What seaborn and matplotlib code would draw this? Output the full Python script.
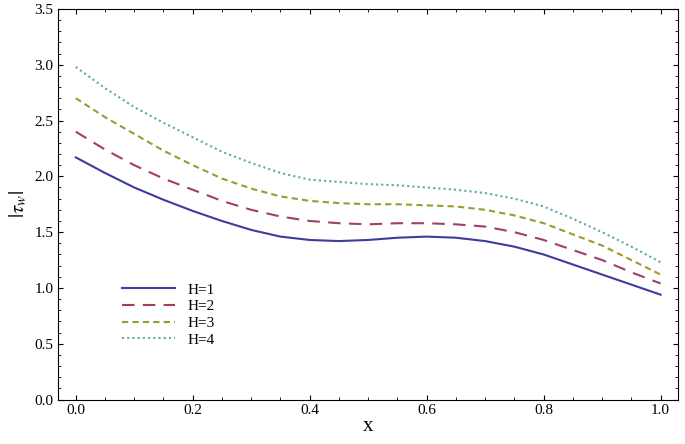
import matplotlib
matplotlib.use("Agg")
import matplotlib.pyplot as plt
import seaborn as sns
import pandas as pd

x = [0.0, 0.05, 0.1, 0.15, 0.2, 0.25, 0.3, 0.35, 0.4, 0.45, 0.5,
     0.55, 0.6, 0.65, 0.7, 0.75, 0.8, 0.85, 0.9, 0.95, 1.0]
h1 = [2.17, 2.03, 1.90, 1.79, 1.69, 1.60, 1.52, 1.46, 1.43, 1.42, 1.43,
      1.45, 1.46, 1.45, 1.42, 1.37, 1.30, 1.21, 1.12, 1.03, 0.94]
h2 = [2.40, 2.24, 2.10, 1.98, 1.88, 1.78, 1.70, 1.64, 1.60, 1.58, 1.57,
      1.58, 1.58, 1.57, 1.55, 1.50, 1.43, 1.34, 1.25, 1.14, 1.04]
h3 = [2.70, 2.53, 2.38, 2.23, 2.10, 1.98, 1.89, 1.82, 1.78, 1.76, 1.75,
      1.75, 1.74, 1.73, 1.70, 1.65, 1.58, 1.48, 1.38, 1.25, 1.12]
h4 = [2.98, 2.79, 2.62, 2.48, 2.35, 2.22, 2.12, 2.03, 1.97, 1.95, 1.93,
      1.92, 1.90, 1.88, 1.85, 1.80, 1.73, 1.62, 1.50, 1.37, 1.23]
labels = ["H=1", "H=2", "H=3", "H=4"]

plt.rcParams["font.family"] = "Liberation Serif"
plt.rcParams["mathtext.fontset"] = "stix"

fig, ax = plt.subplots(figsize=(6.85, 4.44), dpi=100)
styles = [("#3d3d9e", "-"), ("#a23e6c", (0, (6, 4))), ("#9c9a30", (0, (3, 2))), ("#5fa8a8", (0, (1, 1.5)))]
for ys, lab, (c, ls) in zip([h1, h2, h3, h4], labels, styles):
    df = pd.DataFrame({"x": x, "y": ys})
    sns.lineplot(data=df, x="x", y="y", ax=ax, color=c, linestyle=ls, lw=1.5, label=lab)

ax.set_xlim(-0.03, 1.03)
ax.set_ylim(0, 3.5)
ax.set_xticks([0, 0.2, 0.4, 0.6, 0.8, 1.0])
ax.set_yticks([i * 0.5 for i in range(8)])
ax.xaxis.set_minor_locator(matplotlib.ticker.MultipleLocator(0.05))
ax.yaxis.set_minor_locator(matplotlib.ticker.MultipleLocator(0.1))
ax.tick_params(direction="in", which="both", top=True, right=True, labelsize=11)
ax.set_xlabel("x", fontsize=15, labelpad=0)
ax.set_ylabel(r"$|\tau_w|$", fontsize=15)
ax.legend(loc="lower left", bbox_to_anchor=(0.08, 0.1), frameon=False, fontsize=11,
          handlelength=3.5, labelspacing=0.2)
fig.subplots_adjust(left=0.085, right=0.99, top=0.98, bottom=0.1)
fig.savefig("out.png")
